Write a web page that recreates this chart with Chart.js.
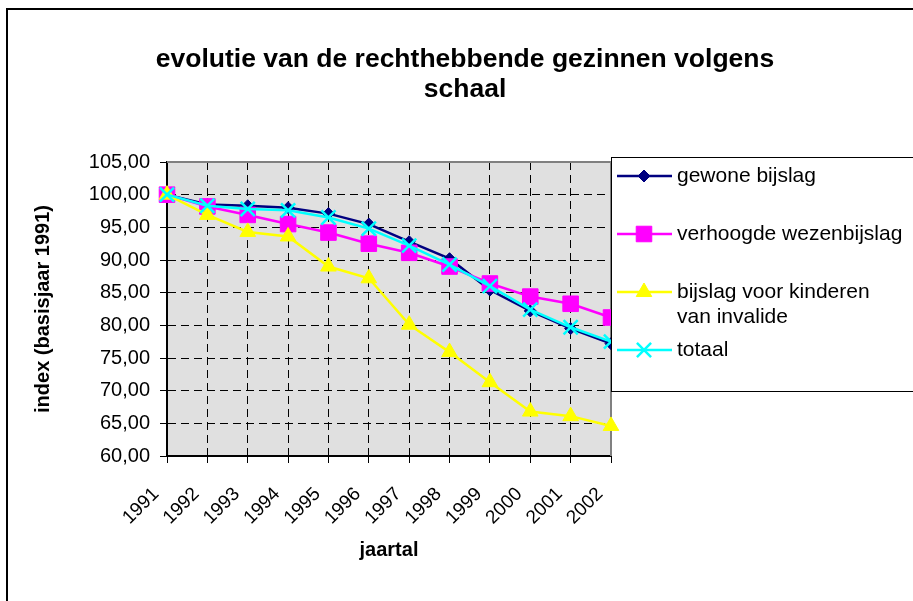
<!DOCTYPE html>
<html>
<head>
<meta charset="utf-8">
<script src="https://cdn.jsdelivr.net/npm/chart.js@4.4.0/dist/chart.umd.min.js"></script>
<style>
  html, body { margin: 0; padding: 0; background: #fff; }
</style>
</head>
<body>
<canvas id="chartSchaal" width="913" height="601"></canvas>
<script>
const years = ["1991", "1992", "1993", "1994", "1995", "1996", "1997", "1998", "1999", "2000", "2001", "2002"];
const gewoneBijslag = [100, 98.5, 98.3, 98.0, 97.1, 95.5, 92.8, 90.2, 85.4, 82.2, 79.5, 77.2];
const verhoogdeWezenbijslag = [100, 98.2, 96.9, 95.5, 94.2, 92.5, 91.1, 89.0, 86.4, 84.4, 83.3, 81.2];
const bijslagInvalide = [100, 96.9, 94.3, 93.6, 89.0, 87.2, 80.1, 75.9, 71.3, 66.8, 66.1, 64.6];
const totaal = [100, 98.3, 97.8, 97.6, 96.5, 94.8, 92.2, 89.3, 86.0, 82.4, 79.7, 77.5];

const seriesNames = [["gewone bijslag"], ["verhoogde wezenbijslag"], ["bijslag voor kinderen", "van invalide"], ["totaal"]];
const chartTitle = ["evolutie van de rechthebbende gezinnen volgens", "schaal"];
const yTitle = "index (basisjaar 1991)";
const xTitle = "jaartal";

const FONT = "'Liberation Sans', Arial, sans-serif";
Chart.defaults.font.family = FONT;
Chart.defaults.color = "#000";

// achtergrond, kader, titel
const decor = {
    id: "decor",
    beforeDraw(chart) {
        const { ctx, chartArea: a } = chart;
        ctx.save();
        ctx.fillStyle = "#fff";
        ctx.fillRect(0, 0, chart.width, chart.height);
        ctx.fillStyle = "#000";
        ctx.fillRect(6, 8, 2, chart.height);
        ctx.fillRect(6, 8, chart.width, 2);
        ctx.fillStyle = "#e0e0e0";
        ctx.fillRect(a.left, a.top, a.right - a.left, a.bottom - a.top);

        ctx.font = "bold 26.5px " + FONT;
        ctx.textAlign = "center";
        ctx.textBaseline = "middle";
        ctx.fillStyle = "#000";
        chartTitle.forEach((t, i) => ctx.fillText(t, 465, 60 + i * 30));
        ctx.restore();
    },
    beforeDatasetsDraw(chart) {
        const { ctx, chartArea: a } = chart;
        ctx.save();
        ctx.strokeStyle = "#808080";
        ctx.lineWidth = 2;
        ctx.beginPath();
        ctx.moveTo(a.left, a.top);
        ctx.lineTo(a.right, a.top);
        ctx.lineTo(a.right, a.bottom);
        ctx.stroke();
        ctx.restore();
    },
    afterDraw(chart) {
        const { ctx } = chart;
        ctx.save();
        ctx.fillStyle = "#fff";
        ctx.fillRect(611, 157, 320, 234);
        ctx.strokeStyle = "#000";
        ctx.lineWidth = 1;
        ctx.strokeRect(611.5, 157.5, 320, 234);

        const rows = [176, 234, 292, 350];
        ctx.font = "21px " + FONT;
        ctx.textBaseline = "middle";
        ctx.textAlign = "left";
        chart.data.datasets.forEach((ds, i) => {
            const y = rows[i];
            ctx.strokeStyle = ds.borderColor;
            ctx.lineWidth = ds.borderWidth;
            ctx.beginPath();
            ctx.moveTo(617, y);
            ctx.lineTo(672, y);
            ctx.stroke();
            ctx.fillStyle = ds.backgroundColor;
            ctx.strokeStyle = ds.borderColor;
            ctx.lineWidth = ds.pointBorderWidth;
            Chart.helpers.drawPoint(ctx, {
                pointStyle: ds.pointStyle,
                radius: ds.pointRadius,
                rotation: 0,
                borderWidth: ds.pointBorderWidth
            }, 644, y);
            ctx.fillStyle = "#000";
            seriesNames[i].forEach((line, j) => ctx.fillText(line, 677, y + j * 25));
        });
        ctx.restore();
    }
};

const gridColorX = (c) => (c.index === 0 || c.index === years.length - 1) ? "rgba(0,0,0,0)" : "#000";
const gridColorY = (c) => (c.tick && (c.tick.value === 60 || c.tick.value === 105)) ? "rgba(0,0,0,0)" : "#000";

new Chart(document.getElementById("chartSchaal"), {
    type: "line",
    data: {
        labels: years,
        datasets: [
            {
                label: seriesNames[0].join(" "),
                data: gewoneBijslag,
                borderColor: "#000080",
                backgroundColor: "#000080",
                pointStyle: "rectRot",
                pointRadius: 6,
                pointBorderWidth: 1,
                borderWidth: 2.5,
                order: 4,
            },
            {
                label: seriesNames[1].join(" "),
                data: verhoogdeWezenbijslag,
                borderColor: "#ff00ff",
                backgroundColor: "#ff00ff",
                pointStyle: "rect",
                pointRadius: 11,
                pointBorderWidth: 1,
                borderWidth: 2.5,
                order: 3,
            },
            {
                label: seriesNames[2].join(" "),
                data: bijslagInvalide,
                borderColor: "#ffff00",
                backgroundColor: "#ffff00",
                pointStyle: "triangle",
                pointRadius: 9,
                pointBorderWidth: 1,
                borderWidth: 2.5,
                order: 2,
            },
            {
                label: seriesNames[3].join(" "),
                data: totaal,
                borderColor: "#00ffff",
                backgroundColor: "#00ffff",
                pointStyle: "crossRot",
                pointRadius: 10,
                pointBorderWidth: 2.5,
                borderWidth: 2.5,
                order: 1,
            },
        ],
    },
    options: {
        responsive: false,
        animation: false,
        clip: false,
        layout: { padding: { top: 162, right: 302, left: 0, bottom: 0 } },
        plugins: {
            legend: { display: false },
            title: { display: false },
            tooltip: { enabled: false },
        },
        elements: { line: { tension: 0 } },
        scales: {
            x: {
                offset: false,
                grid: { color: gridColorX, tickColor: "#000", tickLength: 7, tickBorderDash: [] },
                border: { color: "#000", width: 2, dash: [8, 5] },
                ticks: { font: { size: 19 }, color: "#000", minRotation: 45, maxRotation: 45, autoSkip: false, padding: 20, labelOffset: -11 },
                title: { display: true, text: xTitle, font: { size: 20, weight: "bold" }, padding: { top: 0, bottom: 39 } },
                afterFit(s) { s.height = 145; },
            },
            y: {
                min: 60,
                max: 105,
                grid: { color: gridColorY, tickColor: "#000", tickLength: 7, tickBorderDash: [] },
                border: { color: "#000", width: 2, dash: [8, 5] },
                ticks: {
                    stepSize: 5,
                    font: { size: 20 },
                    color: "#000",
                    padding: 10,
                    callback: (v) => v.toFixed(2).replace(".", ","),
                },
                title: { display: true, text: yTitle, font: { size: 20, weight: "bold" }, padding: { top: 31, bottom: 0 } },
                afterFit(s) { s.width = 167; },
            },
        },
    },
    plugins: [decor],
});
</script>
</body>
</html>
